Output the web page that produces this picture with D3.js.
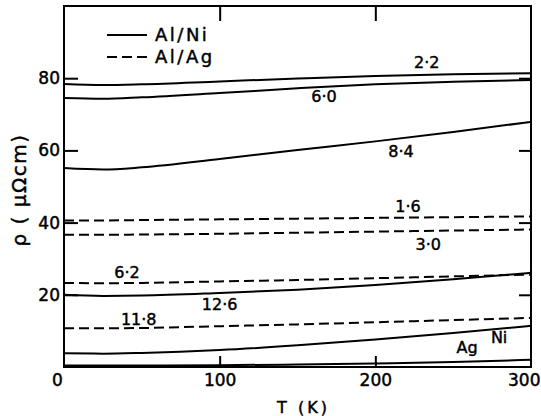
<!DOCTYPE html>
<html>
<head>
<meta charset="utf-8">
<script src="https://cdn.jsdelivr.net/npm/d3@7"></script>
<style>
  html, body { margin: 0; padding: 0; background: #fff; }
  svg { display: block; font-family: "DejaVu Sans", sans-serif; }
  svg text { stroke: #000; stroke-width: 0.45px; }
</style>
</head>
<body>
<svg id="chart" width="541" height="416"></svg>
<script>
// Temperature grid (K) shared by every resistivity curve
const temps = [0, 25, 50, 100, 150, 200, 250, 300];

// Resistivity (μΩ cm) for each multilayer, labelled by its parameter
const curveNames  = ["2·2", "6·0", "8·4", "1·6", "3·0", "6·2", "12·6", "11·8", "Ni", "Ag"];
const curveSystem = ["Al/Ni", "Al/Ni", "Al/Ni", "Al/Ag", "Al/Ag", "Al/Ag", "Al/Ni", "Al/Ag", "Al/Ni", "Al/Ni"];
const rho22  = [78.4, 78.1, 78.3, 79.1, 79.9, 80.6, 81.1, 81.4];
const rho60  = [74.5, 74.3, 74.7, 75.9, 77.2, 78.3, 79.0, 79.5];
const rho84  = [55.1, 54.7, 55.3, 57.6, 60.1, 62.5, 65.1, 67.9];
const rho16  = [40.6, 40.6, 40.7, 40.9, 41.1, 41.3, 41.5, 41.7];
const rho30  = [36.6, 36.6, 36.7, 36.9, 37.2, 37.5, 37.8, 38.1];
const rho62  = [23.3, 23.2, 23.3, 23.7, 24.1, 24.6, 25.1, 25.6];
const rho126 = [20.0, 19.7, 19.8, 20.5, 21.4, 22.7, 24.3, 26.1];
const rho118 = [10.7, 10.7, 10.8, 11.3, 11.8, 12.4, 13.0, 13.6];
const rhoNi  = [3.8, 3.7, 3.9, 4.7, 6.0, 7.6, 9.4, 11.4];
const rhoAg  = [0.4, 0.4, 0.4, 0.5, 0.7, 1.0, 1.4, 2.0];
const curveValues = [rho22, rho60, rho84, rho16, rho30, rho62, rho126, rho118, rhoNi, rhoAg];

// Where each curve's name is written (T in K, ρ in μΩ cm at the text baseline)
const labelT   = [233, 167, 216.5, 221, 234, 40.5, 100, 48, 279.5, 259];
const labelRho = [82.8, 73.4, 58.2, 42.9, 32.4, 24.7, 15.8, 11.6, 6.6, 3.9];

// Axis ticks
const xTicks = [0, 100, 200, 300];
const yTicks = [20, 40, 60, 80];
const legendItems = ["Al/Ni", "Al/Ag"];

const svg = d3.select("#chart");
const plotL = 64, plotR = 531, plotT = 6, plotB = 367;

const x = d3.scaleLinear().domain([0, 300]).range([plotL, plotR]);
const y = d3.scaleLinear().domain([0, 100]).range([plotB, plotT]);

const dashFor = sys => sys === "Al/Ag" ? "10,5" : null;

// Curves
const line = d3.line()
  .x((d, i) => x(temps[i]))
  .y(d => y(d))
  .curve(d3.curveMonotoneX);

svg.append("g").selectAll("path")
  .data(curveValues)
  .join("path")
  .attr("d", d => line(d))
  .attr("fill", "none")
  .attr("stroke", "#000")
  .attr("stroke-width", 2)
  .attr("stroke-dasharray", (d, i) => dashFor(curveSystem[i]));

// Curve labels
svg.append("g").selectAll("text")
  .data(curveNames)
  .join("text")
  .attr("x", (d, i) => x(labelT[i]))
  .attr("y", (d, i) => y(labelRho[i]))
  .attr("text-anchor", "middle")
  .attr("font-size", 16)
  .attr("fill", "#000")
  .text(d => d);

// Frame
svg.append("rect")
  .attr("x", plotL).attr("y", plotT)
  .attr("width", plotR - plotL).attr("height", plotB - plotT)
  .attr("fill", "none").attr("stroke", "#000").attr("stroke-width", 2);

// Left axis: inward ticks, labels outside
const yAxis = svg.append("g")
  .attr("transform", `translate(${plotL},0)`)
  .call(d3.axisLeft(y).tickValues(yTicks).tickSize(-14).tickPadding(4).tickFormat(d3.format("d")));
// Right axis: inward ticks only
const yAxisR = svg.append("g")
  .attr("transform", `translate(${plotR},0)`)
  .call(d3.axisRight(y).tickValues(yTicks).tickSize(-12).tickFormat(""));
// Bottom axis: inward ticks, labels below
const xAxis = svg.append("g")
  .attr("transform", `translate(0,${plotB})`)
  .call(d3.axisBottom(x).tickValues(xTicks).tickSize(-11).tickPadding(7).tickFormat(d3.format("d")));
// Top axis: inward ticks only
const xAxisT = svg.append("g")
  .attr("transform", `translate(0,${plotT})`)
  .call(d3.axisTop(x).tickValues([100, 200]).tickSize(-15).tickFormat(""));

[yAxis, yAxisR, xAxis, xAxisT].forEach(g => {
  g.select(".domain").remove();
  g.selectAll(".tick line").attr("stroke", "#000").attr("stroke-width", 2);
  g.selectAll("text").attr("font-family", "DejaVu Sans, sans-serif").attr("font-size", 17).attr("fill", "#000");
});
// The end ticks coincide with the frame
xAxis.selectAll(".tick").filter(d => d === 0 || d === 300).select("line").remove();
xAxis.selectAll(".tick").filter(d => d === 0).select("text").attr("dx", -7);
xAxis.selectAll(".tick").filter(d => d === 300).select("text").attr("text-anchor", "end").attr("dx", 9);

// Axis titles
svg.append("text")
  .attr("x", x(150) + 6).attr("y", 413)
  .attr("text-anchor", "middle")
  .attr("font-size", 16)
  .attr("letter-spacing", 3)
  .text("T (K)");

svg.append("text")
  .attr("transform", `translate(26,${(128 + 252) / 2}) rotate(-90)`)
  .attr("text-anchor", "middle")
  .attr("font-size", 20)
  .attr("letter-spacing", 1.5)
  .text("ρ ( μΩcm)");

// Legend
const legend = svg.append("g").selectAll("g")
  .data(legendItems)
  .join("g")
  .attr("transform", (d, i) => `translate(107,${35 + i * 22})`);
legend.append("line")
  .attr("x1", 0).attr("x2", 40).attr("y1", 0).attr("y2", 0)
  .attr("stroke", "#000").attr("stroke-width", 2)
  .attr("stroke-dasharray", d => dashFor(d));
legend.append("text")
  .attr("x", 48).attr("y", 6)
  .attr("font-size", 18)
  .attr("letter-spacing", 2.5)
  .text(d => d);
</script>
</body>
</html>
